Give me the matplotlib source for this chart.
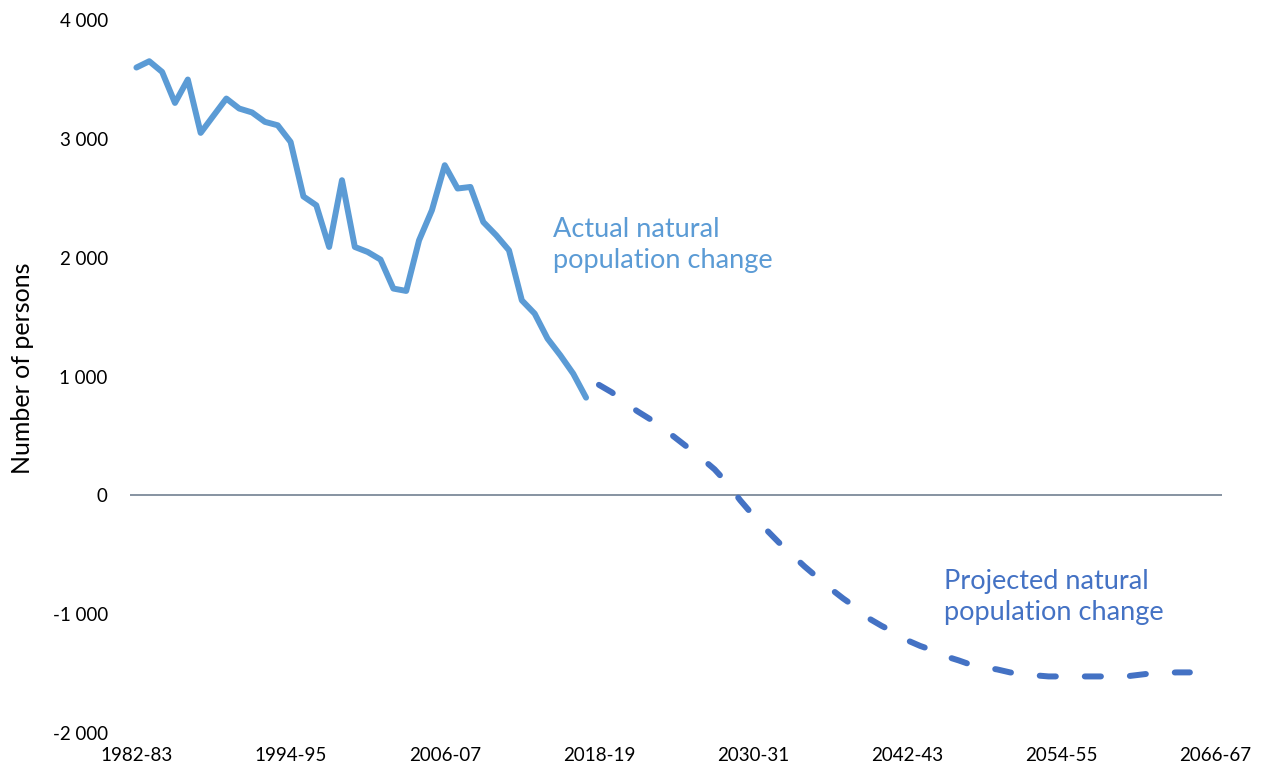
import matplotlib
matplotlib.use("Agg")
import matplotlib.pyplot as plt
import numpy as np

plt.rcParams['font.family'] = ['Lato', 'DejaVu Sans']

# Financial years 1982-83 .. 2066-67
start_years = list(range(1982, 2067))
categories = [f"{y}-{str(y + 1)[-2:]}" for y in start_years]

# Actual natural population change, 1982-83 .. 2017-18
actual = [3600, 3653, 3563, 3302, 3499, 3050, 3195, 3339, 3255, 3222,
          3143, 3114, 2974, 2515, 2441, 2090, 2652, 2090, 2048, 1984,
          1740, 1720, 2146, 2399, 2778, 2582, 2595, 2300, 2189, 2062,
          1641, 1529, 1319, 1178, 1024, 822]

# Projected natural population change, 2018-19 .. 2064-65
projected = [930, 867, 783, 707, 640, 564, 480, 396, 311, 219,
             101, -42, -168, -286, -396, -497, -598, -690, -783, -867,
             -943, -1035, -1098, -1153, -1220, -1267, -1305, -1355, -1389, -1427,
             -1448, -1465, -1490, -1507, -1515, -1524, -1524, -1524, -1524, -1524,
             -1524, -1524, -1511, -1498, -1494, -1490, -1490]

tick_labels = ["1982-83", "1994-95", "2006-07", "2018-19",
               "2030-31", "2042-43", "2054-55", "2066-67"]
y_ticks = [-2000, -1000, 0, 1000, 2000, 3000, 4000]

actual_color = "#5B9BD5"
proj_color = "#4472C4"

fig = plt.figure(figsize=(12.66, 7.74), dpi=100)
ax = fig.add_axes([130 / 1266, 1 - 733 / 774, 1092 / 1266, 713 / 774])

x_act = np.arange(len(actual))
x_proj = np.arange(len(actual), len(actual) + len(projected))

ax.plot(x_act, actual, color=actual_color, lw=4.3, solid_capstyle='round',
        solid_joinstyle='round', zorder=3)
ax.plot(x_proj, projected, color=proj_color, lw=4.3, dash_capstyle='round',
        linestyle=(0, (2.7, 4.85)), zorder=3)

ax.axhline(0, color="#7D8A9A", lw=1.3, zorder=2)

ax.set_xlim(-0.5, len(categories) - 0.5)
ax.set_ylim(-2000, 4000)

def fmt(v):
    s = f"{abs(v):,}".replace(",", "\u00a0")
    return "-" + s if v < 0 else s

ax.set_xticks([categories.index(t) for t in tick_labels])
ax.set_xticklabels(tick_labels)
ax.set_yticks(y_ticks)
ax.set_yticklabels([fmt(v) for v in y_ticks])

ax.tick_params(axis='both', length=0, labelsize=13.5, colors="#000000")
ax.tick_params(axis='y', pad=16)
ax.tick_params(axis='x', pad=10)

for s in ax.spines.values():
    s.set_visible(False)

ax.set_ylabel("Number of persons", fontsize=18)
ax.yaxis.set_label_coords(-0.088, 0.512)

ax.text(32.4, 2104, "Actual natural\npopulation change", color=actual_color,
        fontsize=19.5, ha='left', va='center', linespacing=1.3)
ax.text(62.85, -858, "Projected natural\npopulation change", color=proj_color,
        fontsize=19.5, ha='left', va='center', linespacing=1.3)

fig.savefig("out.png", dpi=100)
